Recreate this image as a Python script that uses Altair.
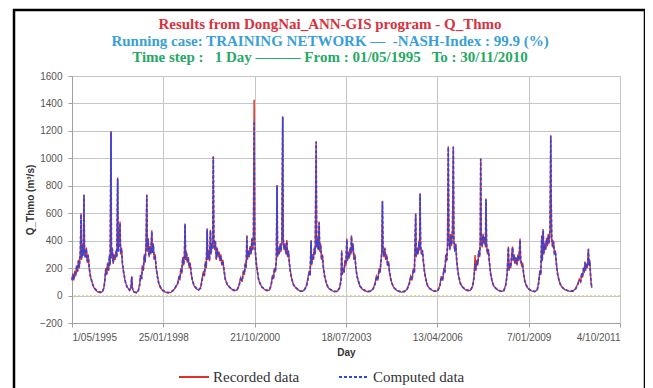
import altair as alt
import pandas as pd

# ---------------- text ----------------
NB = "\u00a0"
TITLE_1 = "Results from DongNai_ANN-GIS program - Q_Thmo"
TITLE_2 = f"Running case: TRAINING NETWORK{NB}—{NB}{NB}-NASH-Index : 99.9 (%)"
TITLE_3 = f"Time step :{NB}{NB} 1 Day ——— From : 01/05/1995{NB}{NB} To : 30/11/2010"
Y_TITLE = "Q_Thmo (m³/s)"
X_TITLE = "Day"
SERIES_NAMES = ["Recorded data", "Computed data"]

# ---------------- axes ----------------
Y_TICKS = [-200, 0, 200, 400, 600, 800, 1000, 1200, 1400, 1600]
X_TICK_DATES = [(1995, 5, 1), (1998, 1, 25), (2000, 10, 21), (2003, 7, 18),
                (2006, 4, 13), (2009, 1, 7), (2011, 10, 4)]

# ---------------- data: (month-day, recorded, computed) -------------
Y1995 = [("05-01", 120, 110), ("05-10", 160, 150), ("05-20", 110, 120), ("06-01", 180, 170),
         ("06-10", 140, 150), ("06-20", 220, 210), ("07-01", 170, 180), ("07-10", 260, 250),
         ("07-20", 200, 210), ("08-01", 330, 320), ("08-08", 600, 590), ("08-14", 260, 270),
         ("08-24", 380, 360), ("09-02", 300, 290), ("09-09", 737, 730), ("09-15", 320, 330),
         ("09-25", 280, 270), ("10-05", 350, 340), ("10-15", 240, 250), ("10-25", 300, 290),
         ("11-05", 200, 210), ("11-15", 160, 150), ("11-25", 120, 130), ("12-10", 90, 85),
         ("12-25", 60, 65)]
Y1996 = [("01-15", 40, 45), ("02-10", 25, 30), ("03-05", 20, 25), ("03-30", 30, 28),
         ("04-15", 60, 55), ("04-25", 120, 110), ("05-05", 200, 190), ("05-15", 150, 160),
         ("05-25", 240, 230), ("06-05", 180, 190), ("06-15", 300, 290), ("06-22", 220, 230),
         ("07-01", 1200, 1190), ("07-06", 280, 270), ("07-15", 350, 340), ("07-25", 230, 240),
         ("08-05", 300, 290), ("08-15", 260, 270), ("08-25", 330, 320), ("09-03", 280, 290),
         ("09-12", 860, 850), ("09-18", 330, 320), ("09-28", 400, 390), ("10-08", 540, 530),
         ("10-14", 300, 310), ("10-24", 350, 340), ("11-03", 230, 240), ("11-15", 180, 170),
         ("11-28", 120, 130), ("12-10", 90, 85), ("12-28", 60, 55)]
Y1997 = [("01-20", 40, 38), ("02-05", 60, 55), ("02-13", 140, 135), ("02-20", 50, 55),
         ("03-10", 25, 28), ("04-05", 20, 22), ("04-25", 35, 30), ("05-10", 80, 75),
         ("05-20", 150, 140), ("06-01", 120, 130), ("06-10", 220, 210), ("06-20", 180, 190),
         ("07-01", 300, 290), ("07-10", 240, 250), ("07-20", 380, 370), ("07-28", 737, 730),
         ("08-03", 320, 330), ("08-12", 420, 410), ("08-22", 280, 290), ("09-01", 360, 350),
         ("09-10", 300, 310), ("09-21", 475, 465), ("09-27", 320, 310), ("10-07", 380, 370),
         ("10-17", 260, 270), ("10-27", 300, 290), ("11-07", 200, 210), ("11-20", 150, 140),
         ("12-05", 90, 95), ("12-25", 55, 60)]
Y1998 = [("01-20", 35, 38), ("02-15", 25, 28), ("03-15", 20, 22), ("04-15", 22, 25),
         ("05-15", 40, 38), ("06-10", 60, 65), ("07-01", 90, 85), ("07-15", 140, 130),
         ("07-25", 110, 120), ("08-05", 200, 190), ("08-15", 160, 170), ("08-25", 280, 270),
         ("09-05", 220, 230), ("09-13", 300, 290), ("09-20", 525, 520), ("09-26", 260, 270),
         ("10-05", 320, 310), ("10-15", 240, 250), ("10-25", 280, 270), ("11-05", 200, 210),
         ("11-15", 240, 230), ("11-25", 160, 170), ("12-10", 110, 105), ("12-28", 70, 75)]
Y1999 = [("01-20", 50, 55), ("02-15", 40, 42), ("03-10", 60, 55), ("03-25", 120, 110),
         ("04-10", 180, 170), ("04-20", 140, 150), ("05-01", 250, 240), ("05-10", 200, 210),
         ("05-20", 490, 480), ("05-27", 260, 270), ("06-05", 330, 320), ("06-15", 250, 260),
         ("06-25", 480, 470), ("07-02", 300, 310), ("07-12", 380, 370), ("07-20", 340, 350),
         ("07-26", 1015, 1010), ("08-01", 420, 410), ("08-10", 330, 340), ("08-18", 400, 390),
         ("08-28", 260, 270), ("09-07", 350, 340), ("09-17", 280, 290), ("09-27", 320, 310),
         ("10-07", 250, 260), ("10-17", 300, 290), ("10-27", 220, 230), ("11-08", 260, 250),
         ("11-20", 180, 190), ("12-05", 120, 115), ("12-25", 80, 85)]
Y2000 = [("01-20", 60, 62), ("02-15", 45, 48), ("03-10", 35, 38), ("04-10", 40, 42),
         ("05-01", 70, 65), ("05-20", 130, 120), ("06-05", 100, 110), ("06-20", 180, 170),
         ("07-01", 150, 160), ("07-10", 240, 230), ("07-20", 200, 210), ("07-28", 440, 430),
         ("08-03", 260, 270), ("08-13", 330, 320), ("08-23", 280, 290), ("09-02", 360, 350),
         ("09-12", 300, 310), ("09-22", 420, 410), ("10-01", 330, 340), ("10-08", 450, 440),
         ("10-15", 1426, 1270), ("10-21", 420, 410), ("10-30", 300, 310), ("11-08", 240, 230),
         ("11-18", 180, 190), ("11-30", 130, 125), ("12-15", 90, 95)]
Y2001 = [("01-10", 60, 62), ("02-05", 45, 48), ("03-05", 35, 38), ("04-01", 40, 42),
         ("04-20", 80, 75), ("05-05", 150, 140), ("05-15", 120, 130), ("05-25", 200, 190),
         ("06-05", 170, 180), ("06-15", 260, 250), ("06-23", 805, 800), ("06-29", 280, 290),
         ("07-08", 350, 340), ("07-18", 300, 310), ("07-28", 380, 370), ("08-05", 320, 330),
         ("08-15", 400, 390), ("08-24", 1306, 1300), ("08-30", 420, 410), ("09-08", 330, 340),
         ("09-18", 380, 370), ("09-28", 300, 310), ("10-08", 404, 395), ("10-16", 280, 290),
         ("10-26", 330, 320), ("11-05", 230, 240), ("11-18", 170, 160), ("12-01", 120, 125),
         ("12-20", 80, 78)]
Y2002 = [("01-15", 55, 58), ("02-10", 40, 42), ("03-10", 30, 32), ("04-10", 35, 33),
         ("05-10", 70, 65), ("05-25", 120, 110), ("06-10", 180, 170), ("06-20", 150, 160),
         ("07-01", 404, 395), ("07-07", 220, 230), ("07-17", 300, 290), ("07-27", 260, 270),
         ("08-05", 350, 340), ("08-15", 300, 310), ("08-25", 1124, 1120), ("08-31", 360, 350),
         ("09-08", 420, 410), ("09-17", 330, 340), ("09-27", 540, 530), ("10-03", 320, 330),
         ("10-13", 380, 370), ("10-23", 260, 270), ("11-02", 300, 290), ("11-12", 200, 210),
         ("11-25", 150, 140), ("12-10", 100, 105), ("12-28", 65, 68)]
Y2003 = [("01-20", 45, 48), ("02-15", 35, 38), ("03-15", 28, 30), ("04-15", 30, 32),
         ("05-10", 60, 55), ("05-25", 120, 110), ("06-01", 330, 320), ("06-07", 150, 160),
         ("06-17", 200, 190), ("06-27", 170, 180), ("07-07", 260, 250), ("07-17", 220, 230),
         ("07-27", 415, 405), ("08-03", 250, 260), ("08-13", 320, 310), ("08-23", 270, 280),
         ("09-02", 350, 340), ("09-10", 300, 310), ("09-16", 440, 430), ("09-23", 320, 330),
         ("10-03", 380, 370), ("10-13", 260, 270), ("10-23", 300, 290), ("11-03", 200, 210),
         ("11-15", 150, 140), ("12-01", 100, 105), ("12-20", 65, 68)]
Y2004 = [("01-15", 45, 48), ("02-10", 35, 38), ("03-10", 28, 30), ("04-10", 30, 32),
         ("05-10", 50, 48), ("06-01", 90, 85), ("06-15", 140, 130), ("07-01", 110, 120),
         ("07-15", 200, 190), ("07-25", 170, 180), ("08-05", 260, 250), ("08-13", 320, 310),
         ("08-20", 690, 685), ("08-26", 330, 320), ("09-05", 280, 290), ("09-15", 350, 340),
         ("09-25", 260, 270), ("10-05", 300, 290), ("10-15", 220, 230), ("10-25", 250, 240),
         ("11-05", 170, 180), ("11-20", 120, 115), ("12-05", 80, 85), ("12-25", 55, 58)]
Y2005 = [("01-20", 40, 42), ("02-15", 30, 32), ("03-15", 25, 27), ("04-15", 28, 30),
         ("05-15", 45, 42), ("06-10", 90, 85), ("06-25", 140, 130), ("07-10", 110, 120),
         ("07-25", 200, 190), ("08-05", 170, 180), ("08-19", 600, 590), ("08-25", 280, 290),
         ("09-05", 350, 340), ("09-15", 300, 310), ("09-25", 400, 390), ("10-01", 330, 340),
         ("10-06", 745, 740), ("10-12", 360, 350), ("10-22", 300, 310), ("11-01", 330, 320),
         ("11-12", 240, 250), ("11-25", 170, 160), ("12-10", 110, 115), ("12-28", 70, 72)]
Y2006 = [("01-20", 50, 52), ("02-15", 38, 40), ("03-15", 30, 32), ("04-15", 35, 33),
         ("05-10", 70, 65), ("05-25", 140, 130), ("06-10", 110, 120), ("06-25", 200, 190),
         ("07-05", 170, 180), ("07-15", 300, 290), ("07-25", 250, 260), ("08-03", 380, 370),
         ("08-11", 1088, 1080), ("08-17", 420, 410), ("08-27", 330, 340), ("09-06", 450, 440),
         ("09-16", 360, 370), ("09-26", 480, 470), ("10-05", 1088, 1080), ("10-11", 400, 410),
         ("10-21", 330, 320), ("11-01", 380, 370), ("11-10", 260, 270), ("11-22", 190, 180),
         ("12-05", 130, 135), ("12-22", 85, 88)]
Y2007 = [("01-15", 60, 62), ("02-10", 45, 48), ("03-10", 35, 38), ("04-10", 38, 40),
         ("05-05", 70, 65), ("05-20", 140, 130), ("05-31", 295, 230), ("06-08", 180, 190),
         ("06-20", 260, 250), ("06-30", 220, 230), ("07-10", 330, 320), ("07-20", 280, 290),
         ("07-27", 400, 390), ("08-01", 1000, 995), ("08-07", 420, 410), ("08-17", 350, 360),
         ("08-27", 450, 440), ("09-05", 380, 390), ("09-15", 430, 420), ("09-22", 350, 360),
         ("09-28", 708, 700), ("10-04", 380, 370), ("10-14", 300, 310), ("10-24", 340, 330),
         ("11-04", 240, 250), ("11-16", 170, 160), ("12-01", 110, 115), ("12-20", 70, 72)]
Y2008 = [("01-15", 50, 52), ("02-10", 38, 40), ("03-10", 30, 32), ("04-10", 35, 37),
         ("05-01", 80, 75), ("05-15", 150, 140), ("05-30", 357, 350), ("06-05", 180, 190),
         ("06-15", 240, 230), ("06-25", 200, 210), ("07-05", 300, 290), ("07-15", 357, 350),
         ("07-22", 250, 260), ("08-01", 300, 290), ("08-10", 230, 240), ("08-20", 280, 270),
         ("09-01", 220, 230), ("09-12", 300, 290), ("09-22", 250, 260), ("10-05", 415, 405),
         ("10-11", 260, 270), ("10-21", 220, 230), ("11-01", 240, 230), ("11-12", 160, 170),
         ("11-25", 110, 105), ("12-10", 75, 78), ("12-28", 55, 57)]
Y2009 = [("01-20", 40, 42), ("02-15", 32, 34), ("03-15", 28, 30), ("04-10", 40, 38),
         ("04-25", 90, 85), ("05-10", 180, 170), ("05-20", 150, 160), ("05-30", 440, 430),
         ("06-05", 250, 260), ("06-15", 485, 475), ("06-22", 300, 310), ("07-02", 380, 370),
         ("07-12", 330, 340), ("07-22", 420, 410), ("08-01", 360, 370), ("08-10", 450, 440),
         ("08-20", 380, 390), ("08-29", 480, 470), ("09-06", 1168, 1160), ("09-10", 730, 720),
         ("09-16", 420, 430), ("09-26", 350, 360), ("10-06", 400, 390), ("10-16", 300, 310),
         ("10-26", 330, 320), ("11-06", 230, 240), ("11-18", 170, 160), ("12-01", 120, 125),
         ("12-20", 80, 82)]
Y2010 = [("01-15", 55, 57), ("02-10", 42, 44), ("03-10", 35, 37), ("04-10", 30, 32),
         ("05-10", 35, 34), ("06-05", 50, 48), ("06-25", 80, 75), ("07-15", 120, 110),
         ("07-30", 100, 105), ("08-10", 160, 150), ("08-20", 130, 140), ("08-30", 200, 190),
         ("09-08", 170, 180), ("09-16", 248, 240), ("09-22", 180, 190), ("10-02", 230, 220),
         ("10-12", 200, 210), ("10-23", 343, 335), ("10-29", 220, 230), ("11-07", 260, 250),
         ("11-15", 150, 160), ("11-22", 90, 95), ("11-30", 55, 58)]

YEARS = {1995: Y1995, 1996: Y1996, 1997: Y1997, 1998: Y1998, 1999: Y1999, 2000: Y2000,
         2001: Y2001, 2002: Y2002, 2003: Y2003, 2004: Y2004, 2005: Y2005, 2006: Y2006,
         2007: Y2007, 2008: Y2008, 2009: Y2009, 2010: Y2010}

rec_rows, comp_rows = [], []
for year, pts in YEARS.items():
    for md, rec, comp in pts:
        d = f"{year}-{md}"
        rec_rows.append({"date": d, "value": rec, "series": SERIES_NAMES[0]})
        comp_rows.append({"date": d, "value": comp, "series": SERIES_NAMES[1]})
rec_df = pd.DataFrame(rec_rows)
comp_df = pd.DataFrame(comp_rows)


def dt(t):
    return alt.DateTime(year=t[0], month=t[1], date=t[2], utc=True)


x_enc = alt.X(
    "date:T",
    scale=alt.Scale(type="utc", domain=[dt(X_TICK_DATES[0]), dt(X_TICK_DATES[-1])], nice=False),
    axis=alt.Axis(values=[dt(t) for t in X_TICK_DATES], format="%-d/%m/%Y", title=X_TITLE,
                  titlePadding=5, labelPadding=5, labelOverlap=False),
)
y_scale = alt.Scale(domain=[-200, 1600], nice=False, zero=False)
y_axis = alt.Axis(values=Y_TICKS, format="d", title=Y_TITLE, titleX=-37,
                  labelPadding=6, labelOverlap=False)
y_enc = alt.Y("value:Q", scale=y_scale, axis=y_axis)

color_enc = alt.Color("series:N", scale=alt.Scale(domain=SERIES_NAMES, range=["#e0302a", "#2f45dc"]),
                      legend=alt.Legend(title=None))
dash_enc = alt.StrokeDash("series:N", scale=alt.Scale(domain=SERIES_NAMES, range=[[1, 0], [3, 2]]),
                          legend=alt.Legend(title=None))

rec_line = alt.Chart(rec_df).mark_line(strokeWidth=1.4).encode(
    x=x_enc, y=y_enc, color=color_enc, strokeDash=dash_enc
)
comp_line = alt.Chart(comp_df).mark_line(strokeWidth=1.7).encode(
    x=x_enc, y=y_enc, color=color_enc, strokeDash=dash_enc
)

zero_rule = alt.Chart(pd.DataFrame({"value": [0]})).mark_rule(
    color="#e2d58c", strokeWidth=1, strokeDash=[2, 2]
).encode(y=y_enc)

one = pd.DataFrame({"k": [0]})
frame = alt.Chart(one).mark_rect(fillOpacity=0, stroke="#000000", strokeWidth=2.5).encode(
    x=alt.value(-58), x2=alt.value(573), y=alt.value(-66), y2=alt.value(330)
)


def title_line(txt, color, ypos):
    return alt.Chart(pd.DataFrame({"t": [txt]})).mark_text(
        font="Liberation Serif", fontWeight="bold", fontSize=15, color=color,
        align="center", baseline="middle"
    ).encode(text="t:N", x=alt.value(258), y=alt.value(ypos))


titles = (title_line(TITLE_1, "#d8323e", -52)
          + title_line(TITLE_2, "#3a9fd6", -35)
          + title_line(TITLE_3, "#27a865", -19))

chart = alt.layer(zero_rule, rec_line, comp_line, frame, titles).properties(
    width=548, height=247,
    autosize=alt.AutoSizeParams(type="none"),
    padding={"left": 64, "top": 68, "right": 25, "bottom": 65},
).configure_view(
    stroke="#b5b5b5", strokeWidth=1
).configure_axis(
    gridColor="#c6c6c6", gridWidth=1, domainColor="#a0a0a0", tickColor="#a0a0a0", tickSize=4,
    labelColor="#555555", labelFont="Liberation Sans", labelFontSize=10, labelOverlap=False,
    titleFont="Liberation Sans", titleFontSize=10, titleFontWeight="bold", titleColor="#333333",
).configure_legend(
    orient="none", legendX=106, legendY=285, direction="horizontal",
    symbolType="stroke", symbolSize=900, symbolStrokeWidth=2,
    labelFont="Liberation Serif", labelFontSize=15, labelColor="#333333",
    labelOffset=3, columnPadding=35,
)

chart.save("out.html", embed_options={"renderer": "svg", "actions": False})
